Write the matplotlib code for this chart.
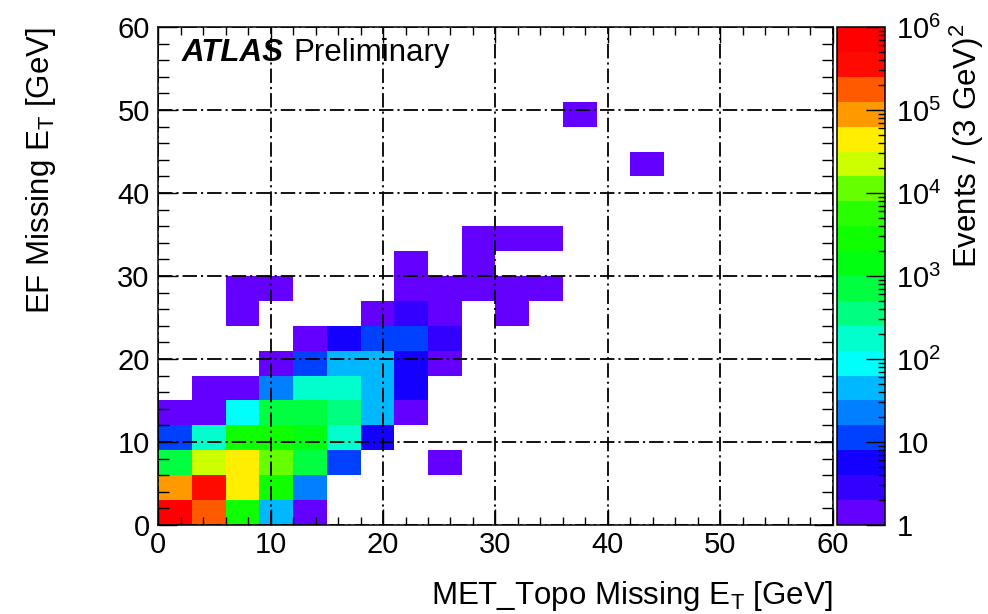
import numpy as np
import matplotlib
matplotlib.use('Agg')
import matplotlib.pyplot as plt
from matplotlib.colors import ListedColormap, LogNorm
from matplotlib.ticker import LogLocator, FuncFormatter, MultipleLocator

plt.rcParams['font.family'] = ['Liberation Sans', 'DejaVu Sans']
plt.rcParams['mathtext.fontset'] = 'custom'
plt.rcParams['mathtext.rm'] = 'Liberation Sans'
plt.rcParams['mathtext.it'] = 'Liberation Sans:italic'
plt.rcParams['mathtext.bf'] = 'Liberation Sans:bold'

# 3 GeV bins on both axes
bin_edges = [0, 3, 6, 9, 12, 15, 18, 21, 24, 27, 30, 33, 36, 39, 42, 45, 48, 51, 54, 57, 60]

# filled cells: lower edge of MET_Topo bin, lower edge of EF bin, events in the cell
cell_x = [0, 3, 6, 9, 12,
          0, 3, 6, 9, 12,
          0, 3, 6, 9, 12, 15, 24,
          0, 3, 6, 9, 12, 15, 18,
          0, 3, 6, 9, 12, 15, 18, 21,
          3, 6, 9, 12, 15, 18, 21,
          9, 12, 15, 18, 21, 24,
          12, 15, 18, 21, 24,
          6, 18, 21, 24, 30,
          6, 9, 21, 24, 27, 30, 33,
          21, 27,
          27, 30, 33,
          42,
          36]
cell_y = [0, 0, 0, 0, 0,
          3, 3, 3, 3, 3,
          6, 6, 6, 6, 6, 6, 6,
          9, 9, 9, 9, 9, 9, 9,
          12, 12, 12, 12, 12, 12, 12, 12,
          15, 15, 15, 15, 15, 15, 15,
          18, 18, 18, 18, 18, 18,
          21, 21, 21, 21, 21,
          24, 24, 24, 24, 24,
          27, 27, 27, 27, 27, 27, 27,
          30, 30,
          33, 33, 33,
          42,
          48]
cell_n = [600000, 180000, 3000, 45, 1,
          90000, 420000, 45000, 3000, 25,
          700, 24000, 45000, 12000, 800, 12, 1,
          10, 180, 2500, 2000, 1500, 200, 6,
          1, 1, 90, 900, 800, 400, 50, 1,
          1, 1, 20, 150, 160, 40, 5,
          1, 10, 40, 40, 6, 1,
          1, 5, 9, 9, 3,
          1, 1, 3, 1, 1,
          1, 1, 1, 1, 1, 1, 1,
          1, 1,
          1, 1, 1,
          1,
          1]

# ROOT rainbow palette, 20 contour levels from 1 to 1e6
palette = ['#6300ff', '#3300ff', '#1400ff', '#0040ff', '#0080ff',
           '#00b8ff', '#00fffa', '#00ffcc', '#00ff80', '#00ff40',
           '#00ff10', '#10ff00', '#28ff00', '#66ff00', '#ccff00',
           '#ffee00', '#ff9900', '#ff5a00', '#ff0a00', '#ff0000']

H, _, _ = np.histogram2d(cell_x, cell_y, bins=[bin_edges, bin_edges], weights=cell_n)
H = np.ma.masked_equal(H, 0)

fig = plt.figure(figsize=(9.88, 6.14), dpi=100)
ax = fig.add_axes([0.16, 0.145, 0.683, 0.811])
cax = fig.add_axes([0.847, 0.145, 0.049, 0.811])

cmap = ListedColormap(palette)
norm = LogNorm(vmin=1, vmax=1e6)
mesh = ax.pcolormesh(bin_edges, bin_edges, H.T, cmap=cmap, norm=norm)

ax.set_xlim(0, 60)
ax.set_ylim(0, 60)
ax.xaxis.set_major_locator(MultipleLocator(10))
ax.yaxis.set_major_locator(MultipleLocator(10))
ax.xaxis.set_minor_locator(MultipleLocator(2))
ax.yaxis.set_minor_locator(MultipleLocator(2))
ax.tick_params(which='both', direction='in', top=True, right=True, labelsize=21, width=1.0)
ax.tick_params(axis='x', which='major', length=11.5, pad=4)
ax.tick_params(axis='x', which='minor', length=6)
ax.tick_params(axis='y', which='major', length=14, pad=6)
ax.tick_params(axis='y', which='minor', length=8)
for s in ax.spines.values():
    s.set_linewidth(1.1)

ax.grid(True, which='major', color='k', linestyle=(0, (8, 2.2, 1.2, 2.2)), linewidth=1.3)
ax.set_axisbelow(False)

ax.set_xlabel(r'MET_Topo Missing $\mathregular{E_{T}}$ [GeV]', fontsize=22.5, loc='right')
ax.xaxis.set_label_coords(1.0, -0.108)
ax.set_ylabel(r'EF Missing $\mathregular{E_{T}}$ [GeV]', fontsize=22.5, loc='top')
ax.yaxis.set_label_coords(-0.148, 1.0)

ax.text(0.035, 0.948, 'ATLAS', transform=ax.transAxes, fontsize=22.5,
        fontweight='bold', fontstyle='italic', va='center', ha='left')
ax.text(0.2, 0.948, 'Preliminary', transform=ax.transAxes, fontsize=22.5,
        va='center', ha='left')

# colour scale
cb = fig.colorbar(mesh, cax=cax)
cb.outline.set_linewidth(1.1)
cb.set_ticks([1, 10, 100, 1e3, 1e4, 1e5, 1e6])
cb.ax.yaxis.set_minor_locator(LogLocator(base=10, subs=np.arange(2, 10)))


def cb_label(v, pos):
    e = int(round(np.log10(v)))
    if e == 0:
        return '1'
    if e == 1:
        return '10'
    return r'$\mathregular{10^{%d}}$' % e


cb.ax.yaxis.set_major_formatter(FuncFormatter(cb_label))
cb.ax.tick_params(which='both', direction='in', right=True, left=False, labelsize=21, width=1.0)
cb.ax.tick_params(which='major', length=13.5, pad=8)
cb.ax.tick_params(which='minor', length=5)

fig.text(0.979, 0.962, r'Events / (3 GeV)$\mathregular{^{2}}$', rotation=90,
         fontsize=22.5, ha='center', va='top')

fig.savefig('out.png', dpi=100)
